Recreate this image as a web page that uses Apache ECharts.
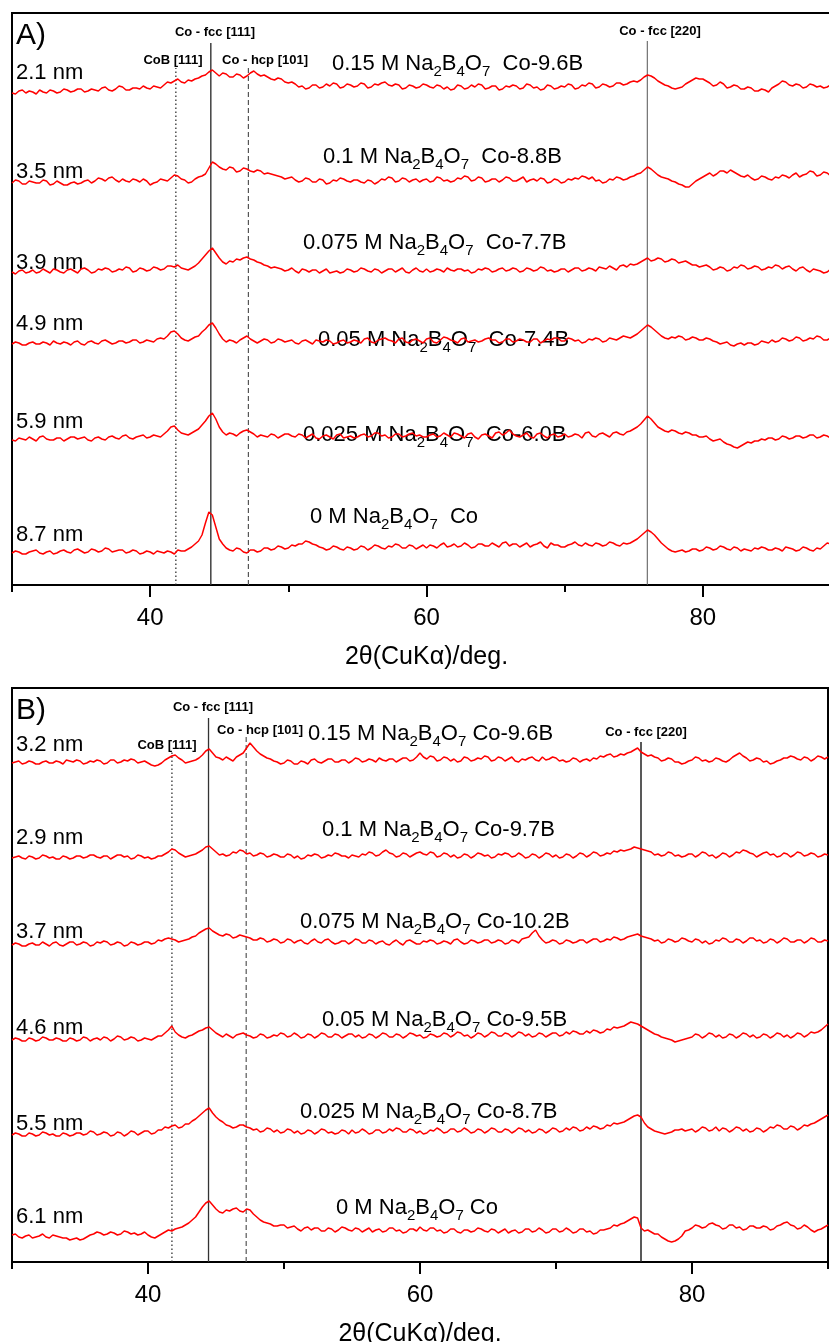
<!DOCTYPE html>
<html>
<head>
<meta charset="utf-8">
<script src="https://cdn.jsdelivr.net/npm/echarts@6/dist/echarts.min.js"></script>
<style>
html, body { margin: 0; padding: 0; background: #fff; }
#chart { width: 829px; height: 1342px; }
</style>
</head>
<body>
<div id="chart"></div>
<script>
// 2-theta sampling grid (deg), 0.25 deg steps
var twoTheta = [
  30,30.25,30.5,30.75,31,31.25,31.5,31.75,32,32.25,32.5,32.75,33,33.25,33.5,33.75,34,34.25,34.5,34.75,
  35,35.25,35.5,35.75,36,36.25,36.5,36.75,37,37.25,37.5,37.75,38,38.25,38.5,38.75,39,39.25,39.5,39.75,
  40,40.25,40.5,40.75,41,41.25,41.5,41.75,42,42.25,42.5,42.75,43,43.25,43.5,43.75,44,44.25,44.5,44.75,
  45,45.25,45.5,45.75,46,46.25,46.5,46.75,47,47.25,47.5,47.75,48,48.25,48.5,48.75,49,49.25,49.5,49.75,
  50,50.25,50.5,50.75,51,51.25,51.5,51.75,52,52.25,52.5,52.75,53,53.25,53.5,53.75,54,54.25,54.5,54.75,
  55,55.25,55.5,55.75,56,56.25,56.5,56.75,57,57.25,57.5,57.75,58,58.25,58.5,58.75,59,59.25,59.5,59.75,
  60,60.25,60.5,60.75,61,61.25,61.5,61.75,62,62.25,62.5,62.75,63,63.25,63.5,63.75,64,64.25,64.5,64.75,
  65,65.25,65.5,65.75,66,66.25,66.5,66.75,67,67.25,67.5,67.75,68,68.25,68.5,68.75,69,69.25,69.5,69.75,
  70,70.25,70.5,70.75,71,71.25,71.5,71.75,72,72.25,72.5,72.75,73,73.25,73.5,73.75,74,74.25,74.5,74.75,
  75,75.25,75.5,75.75,76,76.25,76.5,76.75,77,77.25,77.5,77.75,78,78.25,78.5,78.75,79,79.25,79.5,79.75,
  80,80.25,80.5,80.75,81,81.25,81.5,81.75,82,82.25,82.5,82.75,83,83.25,83.5,83.75,84,84.25,84.5,84.75,
  85,85.25,85.5,85.75,86,86.25,86.5,86.75,87,87.25,87.5,87.75,88,88.25,88.5,88.75,89,89.25,89.5,89.75,
  90
];

var xTicks = [40, 60, 80];
var xMinorTicks = [30, 50, 70, 90];

// sample texts
var concentrations = ['0.15', '0.1', '0.075', '0.05', '0.025', '0'];
var compA = ['Co-9.6B', 'Co-8.8B', 'Co-7.7B', 'Co-7.4B', 'Co-6.0B', 'Co'];
var compB = ['Co-9.6B', 'Co-9.7B', 'Co-10.2B', 'Co-9.5B', 'Co-8.7B', 'Co'];
var sizeA = ['2.1 nm', '3.5 nm', '3.9 nm', '4.9 nm', '5.9 nm', '8.7 nm'];
var sizeB = ['3.2 nm', '2.9 nm', '3.7 nm', '4.6 nm', '5.5 nm', '6.1 nm'];

// reference reflections
var refNames = ['CoB [111]', 'Co - fcc [111]', 'Co - hcp [101]', 'Co - fcc [220]'];
var refPosA = [41.86, 44.39, 47.11, 75.98];
var refPosB = [41.76, 44.45, 47.22, 76.25];

// intensity (a.u.), trace offsets for stacking
var offsetsA = [492, 402, 313, 241, 145, 32];
var offsetsB = [499, 404, 317, 222, 127, 25];

var a1 = [
  0,-1,2,3,0,2,1,-1,3,1,0,3,2,0,1,4,3,1,2,4,
  4,1,2,4,3,2,5,6,3,2,4,7,6,3,3,5,5,4,7,5,
  4,7,6,5,8,11,10,12,14,11,10,13,12,14,15,17,18,21,23,20,
  17,20,19,16,16,19,18,15,17,20,22,19,17,18,16,14,13,15,14,11,
  10,11,9,6,7,4,5,8,8,5,6,9,7,10,9,5,6,9,8,6,
  7,10,9,5,6,9,8,10,11,8,7,9,8,4,5,8,7,5,6,9,
  8,6,5,8,7,4,6,3,4,8,7,4,5,8,6,9,8,4,5,7,
  7,3,4,7,6,8,7,4,5,9,8,5,6,3,4,8,7,4,5,7,
  6,9,8,4,5,8,7,10,9,5,6,9,8,6,7,10,10,8,9,11,
  12,11,13,16,18,17,15,12,10,8,7,5,4,5,6,9,11,13,15,14,
  14,12,10,7,8,11,9,5,6,8,7,4,4,6,5,2,2,4,3,1,
  5,7,9,12,11,8,7,9,8,5,6,9,8,6,7,5,6,8,7,5,
  6
];
var a2 = [
  0,3,2,-1,-1,2,1,0,0,3,2,-2,-1,2,0,-2,-2,0,1,-1,
  0,2,3,0,2,5,4,2,5,6,3,1,4,2,1,4,3,1,4,2,
  -2,0,1,4,3,2,5,8,7,4,3,0,1,4,6,7,9,15,21,19,
  16,14,13,16,15,11,12,15,14,12,11,13,12,9,10,9,8,7,6,4,
  5,6,3,1,2,5,4,1,1,4,3,-1,0,3,2,5,4,2,1,3,
  3,1,0,3,2,-1,1,4,3,6,5,1,2,5,4,1,3,4,1,3,
  4,1,2,6,5,2,3,1,2,5,4,7,6,2,3,6,5,1,2,4,
  4,1,3,6,5,2,2,4,6,1,3,4,2,5,4,0,1,4,3,0,
  1,4,3,5,4,7,6,4,6,2,3,0,1,4,3,6,5,3,4,6,
  7,9,10,13,16,14,11,8,6,5,4,2,1,-1,-2,-4,-4,-1,2,4,
  6,8,10,7,9,12,12,10,13,11,9,7,6,8,5,3,4,7,6,4,
  3,6,5,8,7,5,8,10,6,8,9,12,11,7,8,11,10,7,9,11,
  10
];
var a3 = [
  0,-2,1,2,-1,0,2,-1,0,3,1,-1,3,2,0,-1,2,3,1,-1,
  3,4,2,-1,0,3,2,4,3,0,1,3,2,5,4,0,1,4,3,1,
  2,5,4,2,3,6,6,5,7,4,3,2,4,6,9,13,17,21,24,19,
  14,10,8,11,10,13,12,14,15,13,12,10,9,7,6,4,5,4,3,1,
  2,4,1,-1,3,2,0,2,2,-1,1,3,-1,0,1,-1,0,3,2,0,
  1,4,3,1,0,3,2,-1,1,3,3,0,2,4,0,-1,2,4,1,0,
  3,0,1,3,2,0,4,2,1,3,3,1,2,-1,0,3,2,4,3,0,
  1,3,4,1,2,4,3,0,1,4,3,1,2,5,4,1,2,0,1,3,
  3,0,2,4,4,1,2,4,3,1,5,4,3,6,4,2,6,7,5,8,
  7,8,10,12,14,11,12,14,13,10,11,13,12,9,10,11,9,7,7,5,
  6,7,5,2,3,5,4,1,2,5,4,7,6,3,4,6,5,2,3,5,
  4,7,6,3,5,6,3,1,4,5,2,0,3,2,1,-1,0,3,2,-1,
  1
];
var a4 = [
  0,2,1,-1,-1,1,2,0,0,2,1,-1,3,1,0,2,1,-1,2,3,
  0,-1,2,3,1,0,3,4,2,0,1,3,3,1,2,4,4,1,2,4,
  3,2,5,6,5,8,12,13,10,6,4,3,5,7,8,12,15,19,21,16,
  10,5,2,4,3,1,4,6,8,5,3,1,3,5,4,1,2,5,4,2,
  3,4,1,0,3,4,2,0,4,3,2,4,3,0,1,3,4,1,2,4,
  3,1,5,6,2,1,4,5,6,4,3,1,5,6,2,1,4,5,3,1,
  5,6,2,1,4,7,6,4,3,1,5,6,2,3,4,2,3,5,6,4,
  4,1,2,5,5,2,3,5,4,2,2,5,5,1,3,5,4,6,6,3,
  3,6,5,3,4,1,2,5,4,6,5,2,3,6,5,4,6,8,7,6,
  8,10,13,16,19,17,14,11,8,6,5,7,6,8,7,4,5,7,6,4,
  4,6,5,3,2,0,1,2,-1,-2,0,1,-1,1,1,-1,0,3,2,1,
  4,2,3,6,5,3,4,7,6,3,4,6,5,8,7,4,4,6,5,3,
  4
];
var a5 = [
  0,-1,2,1,0,3,1,-1,3,4,1,0,0,2,2,-1,1,3,3,1,
  2,3,0,-1,2,3,1,0,3,4,2,1,4,5,2,1,3,4,5,2,
  3,5,4,3,6,9,13,14,10,7,6,5,7,9,11,15,19,24,27,21,
  13,8,5,7,6,4,7,9,10,8,6,3,5,4,3,6,5,2,4,6,
  6,4,3,6,5,2,4,6,2,1,4,5,3,1,5,6,2,3,4,2,
  3,5,6,3,4,7,7,4,5,2,3,6,6,3,4,6,7,4,5,3,
  3,5,6,3,4,7,5,3,7,6,4,2,6,7,3,1,5,6,4,2,
  7,8,5,7,10,6,4,3,5,7,3,2,6,7,4,2,5,6,3,4,
  6,3,4,6,5,2,7,8,4,3,6,7,5,3,7,8,6,5,8,9,
  11,13,16,20,24,21,17,13,11,9,8,10,9,7,6,8,7,5,5,3,
  3,4,1,-1,0,1,-2,-4,-5,-7,-8,-6,-4,-2,-3,-1,-1,1,0,2,
  2,0,1,4,3,1,2,4,4,2,3,5,5,2,3,5,4,2,3,5,
  4
];
var a6 = [
  0,2,1,-1,-1,1,2,3,0,-1,1,2,-1,0,2,3,1,0,3,4,
  2,0,1,4,3,1,2,5,4,1,2,3,3,0,1,3,2,-1,0,2,
  1,-1,2,1,0,2,1,-1,3,2,2,4,6,9,12,18,30,41,38,26,
  14,9,5,3,2,5,4,1,0,3,3,1,2,5,5,3,4,7,6,4,
  5,8,7,9,9,12,11,9,8,6,5,3,4,7,6,4,3,6,5,3,
  4,7,6,3,5,8,7,5,4,7,6,9,8,5,5,8,7,4,6,8,
  5,8,7,5,8,10,6,7,9,6,7,10,8,5,6,9,9,7,7,10,
  8,6,10,11,7,9,9,6,8,10,6,8,9,11,7,5,10,8,8,6,
  6,8,9,11,8,7,10,8,7,10,9,7,8,11,10,8,7,10,9,10,
  12,14,17,20,23,21,18,14,10,7,4,2,1,2,3,1,2,4,4,2,
  3,6,5,3,4,7,6,4,3,6,5,2,4,3,2,5,4,6,5,3,
  3,5,4,2,6,5,4,2,3,6,5,3,2,5,4,7,10,9,8,7,
  7
];

var b1 = [
  0,1,2,-1,0,2,1,-1,-1,1,2,0,0,2,1,-1,3,2,1,3,
  2,-1,0,2,1,3,2,-1,0,3,3,0,1,3,2,4,3,0,1,2,
  0,-2,-3,-2,0,3,5,7,8,5,3,0,1,2,3,5,8,12,14,10,
  6,5,3,6,4,2,6,8,10,15,20,16,12,9,7,5,4,2,1,-1,
  0,3,2,-1,-1,2,1,-1,3,4,1,0,2,4,4,1,1,3,3,0,
  2,5,4,1,2,4,3,1,5,3,2,4,4,1,3,5,5,2,3,6,
  10,6,4,7,6,2,3,6,5,2,4,1,2,6,5,2,3,5,4,7,
  6,2,3,6,5,2,4,6,2,1,4,3,5,6,3,2,6,3,4,6,
  5,2,3,1,2,5,4,1,3,4,2,5,4,7,6,8,9,6,7,9,
  8,10,11,13,15,11,9,7,8,6,5,2,3,5,4,1,1,-1,0,2,
  3,6,5,2,3,1,2,5,4,2,1,3,6,8,10,7,5,2,3,5,
  4,1,2,-1,0,2,3,5,5,7,6,4,3,6,5,2,4,7,6,4,
  6
];
var b2 = [
  0,1,2,0,-1,2,1,-1,0,3,2,0,1,-1,-1,2,1,-1,0,2,
  2,0,1,3,3,1,0,2,2,-1,1,3,3,1,2,-1,0,3,2,0,
  1,-1,0,2,2,4,6,9,8,5,3,1,2,3,4,6,8,11,12,9,
  6,3,4,2,3,6,5,8,7,4,5,2,3,5,4,1,2,4,3,1,
  1,4,3,0,2,-1,0,3,2,4,3,0,1,3,2,5,4,2,2,0,
  3,2,1,4,3,6,5,2,3,6,8,5,4,1,2,5,4,1,3,5,
  6,4,3,6,5,1,2,5,4,1,3,0,1,4,3,0,2,5,4,2,
  3,0,1,4,3,5,4,1,2,5,3,0,1,4,3,0,2,5,4,1,
  3,0,1,4,3,0,2,5,4,1,3,6,5,2,3,5,4,7,6,8,
  7,8,9,11,10,9,8,7,6,3,4,2,3,6,5,2,3,1,2,4,
  4,1,3,6,5,2,3,0,2,5,4,1,3,6,5,8,7,5,4,1,
  3,5,6,3,4,1,2,5,4,1,3,6,5,2,3,5,4,1,2,4,
  3
];
var b3 = [
  0,2,1,-1,-1,1,2,0,0,3,1,-1,2,3,0,-1,1,3,3,0,
  1,3,2,-1,0,3,2,4,3,0,1,3,2,-1,0,3,2,0,1,3,
  3,1,2,5,4,6,7,6,5,3,4,5,6,8,9,12,14,16,17,14,
  12,10,9,11,10,7,8,10,9,8,7,5,5,7,6,3,4,6,5,2,
  3,6,5,2,4,5,2,1,4,6,3,2,5,6,3,1,2,4,4,1,
  3,6,5,2,2,5,4,1,3,4,1,0,3,5,2,0,4,5,3,1,
  1,4,3,5,4,1,2,4,3,1,5,6,3,1,2,5,4,2,3,5,
  5,2,3,5,4,1,2,5,4,2,6,7,8,12,15,9,5,2,3,5,
  4,1,2,5,4,2,3,5,5,2,4,6,6,3,4,6,5,8,7,5,
  6,8,9,10,11,9,8,7,6,4,5,2,3,6,5,3,4,7,6,4,
  3,6,5,2,4,1,2,5,4,7,6,3,3,6,5,2,4,7,7,4,
  5,2,3,6,5,2,4,7,6,3,3,5,5,2,4,7,6,3,3,5,
  4
];
var b4 = [
  0,2,1,-1,-1,2,1,-1,0,3,2,0,0,2,1,-1,-1,2,1,-1,
  0,3,2,-1,1,2,0,3,2,-1,1,4,3,0,1,3,2,-1,0,2,
  1,0,2,4,4,7,10,14,8,5,3,2,4,5,7,9,10,12,13,10,
  7,5,3,6,4,2,5,6,7,5,4,2,3,6,5,2,3,5,4,7,
  6,3,4,7,5,2,3,6,5,2,4,7,6,3,3,6,5,2,4,6,
  6,3,5,2,3,6,5,2,4,7,6,3,3,6,5,2,4,7,6,4,
  5,2,3,6,5,3,4,7,6,3,5,8,7,4,5,2,4,7,6,3,
  5,8,7,4,4,7,6,3,5,8,7,4,6,3,4,7,6,3,5,7,
  7,4,5,8,6,9,8,6,6,9,7,10,9,7,8,11,10,13,12,13,
  14,16,18,17,16,14,12,10,8,6,5,3,2,1,0,-2,-1,0,1,2,
  3,6,5,2,4,7,6,3,5,2,3,6,5,2,4,7,6,3,5,2,
  3,6,5,2,4,7,6,3,5,2,4,7,6,3,5,8,7,8,10,13,
  16
];
var b5 = [
  0,2,1,-1,-1,2,1,-1,0,3,2,0,1,-1,-1,2,1,-1,0,2,
  2,0,1,4,3,0,1,3,2,-1,0,3,2,-1,1,4,3,0,2,4,
  4,1,2,5,5,8,7,9,10,7,8,11,11,14,16,19,22,25,27,22,
  18,15,13,10,9,7,8,10,10,8,7,5,6,3,4,7,6,3,5,2,
  3,6,5,2,4,1,2,5,4,1,3,6,5,2,3,1,2,5,4,1,
  5,2,3,6,4,1,2,5,5,2,3,6,4,7,6,3,3,6,5,2,
  4,1,2,5,4,7,5,2,3,6,6,3,4,7,5,2,3,6,5,2,
  4,7,6,3,3,6,5,2,4,7,6,3,5,2,3,6,5,2,4,7,
  6,3,4,7,5,8,7,4,5,8,6,9,8,6,7,10,9,12,11,12,
  13,15,17,19,20,18,12,8,6,4,3,2,1,2,3,5,5,6,4,5,
  6,3,5,8,7,4,5,8,4,7,6,3,5,8,7,4,6,3,4,7,
  6,3,5,8,7,10,9,6,6,9,8,5,7,10,9,11,12,14,16,18,
  20
];
var b6 = [
  2,3,0,-1,1,2,-1,0,1,3,0,-1,2,1,0,-1,-1,-3,-2,-1,
  -3,-2,0,2,3,5,4,2,3,5,4,2,3,6,5,3,4,2,3,5,
  2,0,-1,1,3,5,7,6,8,9,10,12,14,17,20,25,30,34,36,32,
  28,25,24,27,26,28,29,26,25,28,27,23,20,17,15,14,13,11,11,12,
  12,9,10,11,8,6,9,10,7,9,9,6,6,9,8,5,7,10,9,7,
  6,9,8,5,7,9,5,7,8,5,6,9,9,6,7,4,5,8,8,6,
  10,7,6,9,9,6,7,4,5,8,8,5,4,7,7,5,6,9,8,6,
  5,8,7,4,6,8,4,6,7,4,5,8,8,5,6,9,7,4,5,8,
  8,5,6,9,7,4,5,8,8,5,6,3,4,7,7,8,9,12,11,13,
  14,16,18,20,19,9,6,7,5,3,3,0,-2,-4,-5,-4,-2,1,6,7,
  9,12,11,9,10,13,14,12,11,8,9,12,12,9,10,7,8,11,11,9,
  9,11,10,7,8,11,12,14,15,12,11,8,9,12,10,7,5,7,8,10,
  12
];

var tracesA = [a1, a2, a3, a4, a5, a6];
var tracesB = [b1, b2, b3, b4, b5, b6];

// ---- layout ----
var FONT = '"Liberation Sans", Arial, sans-serif';
var RED = '#ff0000';
var refStylesA = [
  {color: '#222', width: 1.2, type: [1.5, 2.5]},
  {color: '#333', width: 1.4, type: 'solid'},
  {color: '#555', width: 1.2, type: [5, 3]},
  {color: '#555', width: 1, type: 'solid'}
];
var refStylesB = [
  {color: '#222', width: 1.2, type: [1.5, 2.5]},
  {color: '#333', width: 1.3, type: 'solid'},
  {color: '#555', width: 1.2, type: [5, 3]},
  {color: '#222', width: 1.5, type: 'solid'}
];

var panels = [
  {
    grid: {left: 12, top: 13, width: 829, height: 572},
    yMax: 572, traces: tracesA, offsets: offsetsA, refPos: refPosA, refStyles: refStylesA,
    refTop: [517, 542, 517, 544],
    refLabel: [[173, 60], [215, 32], [265, 60], [660, 31]],
    letter: ['A)', 36],
    sizes: sizeA, sizeY: [73, 172, 263, 324, 422, 535],
    comps: compA, sampleX: [332, 323, 303, 318, 303, 310], sampleY: [64, 157, 243, 340, 435, 517],
    gap: '  '
  },
  {
    grid: {left: 12, top: 688, width: 816, height: 574},
    yMax: 574, traces: tracesB, offsets: offsetsB, refPos: refPosB, refStyles: refStylesB,
    refTop: [510, 544, 525, 520],
    refLabel: [[167, 745], [213, 707], [260, 730], [646, 732]],
    letter: ['B)', 711],
    sizes: sizeB, sizeY: [745, 838, 932, 1028, 1124, 1217],
    comps: compB, sampleX: [308, 322, 300, 322, 300, 336], sampleY: [734, 830, 922, 1020, 1112, 1208],
    gap: ' '
  }
];

var grids = [], xAxes = [], yAxes = [], series = [], graphics = [];

function textEl(x, y, text, size, opts) {
  opts = opts || {};
  return {
    type: 'text', x: x, y: y, silent: true,
    style: {
      text: text, fill: '#000',
      font: (opts.bold ? 'bold ' : '') + size + 'px ' + FONT,
      align: opts.align || 'left', verticalAlign: 'middle',
      textAlign: opts.align || 'left', textVerticalAlign: 'middle',
      rich: opts.rich
    }
  };
}

var richSample = {
  m: {fontSize: 22, fontFamily: FONT, lineHeight: 30, verticalAlign: 'middle', fill: '#000', color: '#000'},
  s: {fontSize: 15, fontFamily: FONT, lineHeight: 11, verticalAlign: 'bottom', fill: '#000', color: '#000'}
};

panels.forEach(function (p, g) {
  grids.push(Object.assign({
    show: true, borderColor: '#000', borderWidth: 2, backgroundColor: 'transparent',
    containLabel: false, outerBoundsMode: 'none'
  }, p.grid));
  xAxes.push({
    gridIndex: g, type: 'value', min: 30, max: 90, position: 'bottom',
    axisLine: {show: true, onZero: false, lineStyle: {color: '#000', width: 2}},
    axisTick: {show: true, customValues: xTicks, length: 12, lineStyle: {color: '#000', width: 2}},
    axisLabel: {customValues: xTicks, fontSize: 24, color: '#000', margin: 21, fontFamily: FONT},
    splitLine: {show: false},
    name: '2θ(CuKα)/deg.', nameLocation: 'middle', nameGap: 60,
    nameTextStyle: {fontSize: 25, color: '#000', fontFamily: FONT}
  });
  xAxes.push({
    gridIndex: g, type: 'value', min: 30, max: 90, position: 'bottom', offset: 0,
    axisLine: {show: false},
    axisTick: {show: true, customValues: xMinorTicks, length: 7, lineStyle: {color: '#000', width: 2}},
    axisLabel: {show: false},
    splitLine: {show: false}
  });
  yAxes.push({gridIndex: g, type: 'value', min: 0, max: p.yMax, show: false});

  // reference lines
  p.refPos.forEach(function (pos, k) {
    series.push({
      type: 'line', xAxisIndex: g * 2, yAxisIndex: g, silent: true,
      showSymbol: false, symbol: 'none', animation: false,
      data: [[pos, 0], [pos, p.refTop[k]]],
      lineStyle: p.refStyles[k]
    });
    graphics.push(textEl(p.refLabel[k][0], p.refLabel[k][1], refNames[k], 13, {bold: true, align: 'center'}));
  });

  // XRD traces
  p.traces.forEach(function (h, k) {
    var off = p.offsets[k];
    series.push({
      type: 'line', xAxisIndex: g * 2, yAxisIndex: g, silent: true,
      showSymbol: false, symbol: 'none', animation: false,
      data: twoTheta.map(function (t, i) { return [t, off + h[i]]; }),
      lineStyle: {color: RED, width: 1.5}
    });
    graphics.push(textEl(16, p.sizeY[k], p.sizes[k], 22));
    var txt = '{m|' + concentrations[k] + ' M Na}{s|2}{m|B}{s|4}{m|O}{s|7}{m|' + p.gap + p.comps[k] + '}';
    graphics.push(textEl(p.sampleX[k], p.sampleY[k], txt, 22, {rich: richSample}));
  });

  graphics.push(textEl(16, p.letter[1], p.letter[0], 30));
});

var chart = echarts.init(document.getElementById('chart'));
chart.setOption({
  animation: false,
  backgroundColor: '#fff',
  grid: grids,
  xAxis: xAxes,
  yAxis: yAxes,
  series: series,
  graphic: graphics
});
</script>
</body>
</html>
